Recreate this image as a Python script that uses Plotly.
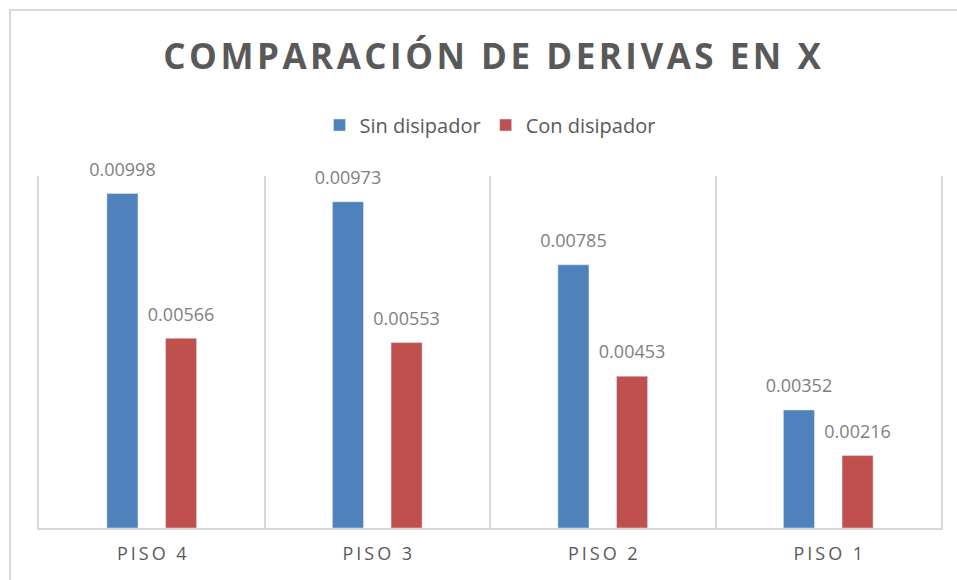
import plotly.graph_objects as go

# Story drift comparison, X direction
pisos = ["PISO 4", "PISO 3", "PISO 2", "PISO 1"]
sin_disipador = [0.00998, 0.00973, 0.00785, 0.00352]
con_disipador = [0.00566, 0.00553, 0.00453, 0.00216]
titulo = "COMPARACIÓN DE DERIVAS EN X"


def spaced(s, sep):
    # widen tracking by inserting a narrow space between characters
    return sep.join(s)


def etiqueta(v):
    # value label followed by a short spacer line that lifts it off the bar
    return f"<span style='font-size:18px'>{v:.5f}</span><br> "


tick_text = [spaced(p, "\u2009") for p in pisos]

GRID = "#d9d9d9"
TEXT = "#595959"
LABEL = "#7f7f7f"
FONT = "Open Sans"

fig = go.Figure()
fig.add_trace(go.Bar(
    name="Sin disipador", x=pisos, y=sin_disipador,
    marker=dict(color="#4f81bd"),
    text=[etiqueta(v) for v in sin_disipador], textposition="outside",
    constraintext="none",
    textfont=dict(family=FONT, size=9, color=LABEL), cliponaxis=False,
))
fig.add_trace(go.Bar(
    name="Con disipador", x=pisos, y=con_disipador,
    marker=dict(color="#c0504d"),
    text=[etiqueta(v) for v in con_disipador], textposition="outside",
    constraintext="none",
    textfont=dict(family=FONT, size=9, color=LABEL), cliponaxis=False,
))

L, R, T, B = 39, 16, 176, 52
W, H = 957, 580
pw, ph = W - L - R, H - T - B

fig.update_layout(
    width=W, height=H,
    margin=dict(l=L, r=R, t=T, b=B),
    paper_bgcolor="white", plot_bgcolor="white",
    barmode="group", bargap=0.48, bargroupgap=0.47,
    title=dict(
        text="<b>" + spaced(titulo, "\u200a") + "</b>",
        font=dict(family=FONT, size=35, color=TEXT),
        xref="container", x=492 / W, xanchor="center",
        y=1 - 57 / H, yanchor="middle",
    ),
    legend=dict(
        orientation="h", x=0.5, xanchor="center",
        y=(H - B - 125) / ph, yref="paper", yanchor="middle",
        font=dict(family=FONT, size=20, color=TEXT),
        itemwidth=30, traceorder="normal",
    ),
    xaxis=dict(
        type="category", categoryorder="array", categoryarray=pisos,
        tickmode="array", tickvals=pisos, ticktext=tick_text,
        tickson="boundaries", ticks="", showgrid=True,
        gridcolor=GRID, gridwidth=1.5,
        showline=True, linecolor=GRID, linewidth=1.5,
        tickfont=dict(family=FONT, size=18, color=TEXT),
        ticklabelstandoff=9,
        range=[-0.5, 3.5],
    ),
    yaxis=dict(
        range=[0, 0.0105], showgrid=False, zeroline=False,
        showticklabels=False, ticks="",
        showline=True, mirror=True, linecolor=GRID, linewidth=1.5,
    ),
    shapes=[dict(
        type="rect", xref="paper", yref="paper",
        x0=(10 - L) / pw, x1=(W + 5 - L) / pw,
        y0=-(B + 5) / ph, y1=(H - B - 10) / ph,
        line=dict(color=GRID, width=2), fillcolor="rgba(0,0,0,0)",
        layer="below",
    )],
)

fig.write_html("out.html")
